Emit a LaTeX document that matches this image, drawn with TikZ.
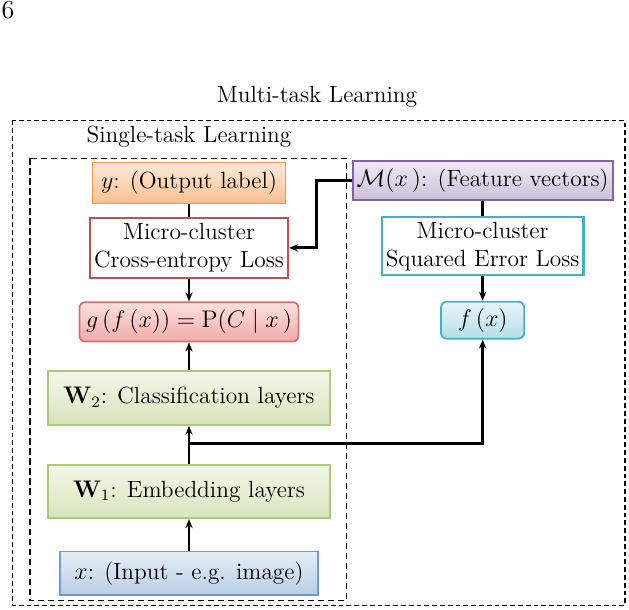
\documentclass[tikz,border=0pt]{standalone}
\usetikzlibrary{arrows.meta}
\definecolor{orangeline}{HTML}{F79646}
\definecolor{orangetop}{HTML}{FDE9D9}
\definecolor{orangebot}{HTML}{FAC08F}
\definecolor{purpleline}{HTML}{8064A2}
\definecolor{purpletop}{HTML}{EFEAF5}
\definecolor{purplebot}{HTML}{CCC0DA}
\definecolor{redline}{HTML}{C0504D}
\definecolor{redtop}{HTML}{FBE0DF}
\definecolor{redbot}{HTML}{F2ABA9}
\definecolor{cyanline}{HTML}{4BACC6}
\definecolor{cyantop}{HTML}{E8F5F9}
\definecolor{cyanbot}{HTML}{B6DDE8}
\definecolor{greenline}{HTML}{9BBB59}
\definecolor{greentop}{HTML}{F3F8E9}
\definecolor{greenbot}{HTML}{D7E4BD}
\definecolor{blueline}{HTML}{6F9BD2}
\definecolor{bluetop}{HTML}{E6EEF8}
\definecolor{bluebot}{HTML}{B9CDE5}
\tikzstyle{box} = [rectangle, text centered, align=center, line width=0.9pt, inner sep=2pt]
\tikzstyle{outbox} = [box, draw=orangeline, top color=orangetop, bottom color=orangebot, minimum width=3.39cm, minimum height=0.72cm]
\tikzstyle{featbox} = [box, draw=purpleline, top color=purpletop, bottom color=purplebot, minimum width=4.55cm, minimum height=0.69cm]
\tikzstyle{celoss} = [box, draw=redline, line width=1.1pt, fill=white, minimum width=3.32cm, minimum height=1.05cm]
\tikzstyle{sqloss} = [box, draw=cyanline, line width=1.1pt, fill=white, minimum width=3.39cm, minimum height=1.02cm]
\tikzstyle{probbox} = [box, rounded corners=0.1cm, draw=redline!80, top color=redtop, bottom color=redbot, minimum width=3.85cm, minimum height=0.69cm]
\tikzstyle{regbox} = [box, rounded corners=0.1cm, draw=cyanline, top color=cyantop, bottom color=cyanbot, minimum width=1.46cm, minimum height=0.65cm]
\tikzstyle{layer} = [box, draw=greenline!80, top color=greentop, bottom color=greenbot, minimum width=4.96cm, minimum height=0.94cm]
\tikzstyle{inputbox} = [box, draw=blueline, top color=bluetop, bottom color=bluebot, minimum width=4.53cm, minimum height=0.77cm]
\tikzstyle{taskframe} = [line width=0.8pt, dash pattern=on 2.4pt off 1.5pt]
\tikzstyle{line} = [line width=1.4pt]
\tikzstyle{arrow} = [line width=1.4pt, ->, >={Stealth[length=4.5pt,width=3.6pt]}]

\begin{document}
\begin{tikzpicture}[node distance=1.3cm, font=\fontsize{11.7}{14}\selectfont]
    \useasboundingbox (-3.321,-7.486) rectangle (7.732,3.216);
    \node (page) [anchor=base west, inner sep=0pt, font=\fontsize{13}{15}\selectfont] at (-3.30,2.89) {6};

    % left column
    \node (out) [outbox] {$y$: (Output label)};
    \node (ce) [celoss, below of=out, yshift=0.16cm] {Micro-cluster\\Cross-entropy Loss};
    \node (prob) [probbox, below of=ce] {$g\,(f\,(x))=\mathrm{P}(C\mid x\,)$};
    \node (w2) [layer, below of=prob, yshift=-0.04cm] {$\mathbf{W}_2$: Classification layers};
    \node (w1) [layer, below of=w2, yshift=-0.34cm] {$\mathbf{W}_1$: Embedding layers};
    \node (inp) [inputbox, below of=w1, yshift=-0.14cm] {$x$: (Input - e.g. image)};

    % right column
    \node (feat) [featbox, right of=out, xshift=3.86cm, yshift=0.04cm] {$\mathcal{M}(x\,)$: (Feature vectors)};
    \node (sq) [sqloss, below of=feat, yshift=0.15cm] {Micro-cluster\\Squared Error Loss};
    \node (reg) [regbox, below of=sq] {$f\,(x)$};

    % frames
    \draw [taskframe] (-3.102,1.098) rectangle (7.662,-7.425);
    \draw [taskframe, dash pattern=on 3.2pt off 1.8pt] (-2.794,0.431) rectangle (2.768,-7.337);
    \node (multi) at (2.249,1.511) {Multi-task Learning};
    \node (single) [above of=out, yshift=-0.49cm] {Single-task Learning};

    \draw [line] (out) -- (ce);
    \draw [arrow] (feat.west) -- ++(-0.62,0) |- (ce.east);
    \draw [arrow] (ce) -- (prob);
    \draw [arrow] (w2) -- (prob);
    \draw [arrow] (w1) -- (w2);
    \draw [arrow] (w1.north) -- ++(0,0.35) -| (reg.south);
    \draw [arrow] (inp) -- (w1);
    \draw [line] (feat) -- (sq);
    \draw [arrow] (sq) -- (reg);
  \end{tikzpicture}
\end{document}
